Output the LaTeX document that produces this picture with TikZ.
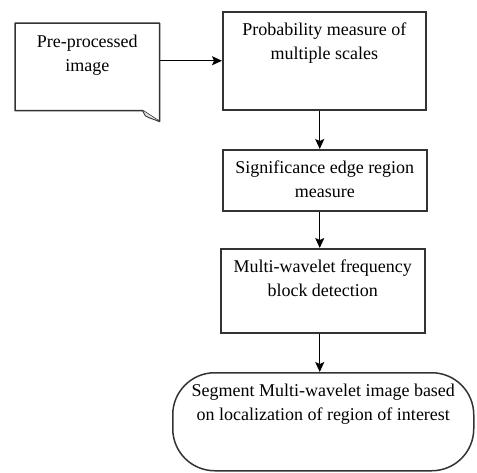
\documentclass[tikz,border=0pt]{standalone}
\usepackage{fontspec}
\setmainfont{Liberation Serif}
\newfontfamily\boxfont{Liberation Serif}
\usetikzlibrary{arrows.meta, calc, positioning}

\newcommand{\boxtext}[3]{\parbox[t][#1][t]{#2}{\centering\strut #3}}

\begin{document}
\begin{tikzpicture}[x=1pt, y=-1pt, line width=1.5pt,
  every node/.style={font=\boxfont\fontsize{18}{24}\selectfont, inner xsep=0pt, inner ysep=7pt},
  stepbox/.style={draw=black!80, fill=white, anchor=north west},
  flow/.style={draw=black, line width=1.3pt, -{Stealth[length=10pt, width=9pt, inset=2pt]}}]
\useasboundingbox (0,0) rectangle (477,472);
% input document
\node[anchor=north west] (pre) at (15,23) {\boxtext{72pt}{143pt}{Pre-processed\\ image}};
\draw[draw=black!80, line join=round] (pre.north west) -- (pre.north east) -- ([yshift=-11pt]pre.south east)
  -- ([xshift=-17pt]pre.south east) -- (pre.south west) -- cycle;
\draw[draw=black!80, fill=black!10, line width=0.9pt, line join=round] ([xshift=-17pt]pre.south east) .. controls ([xshift=-14pt,yshift=-6pt]pre.south east) .. ([xshift=-11pt,yshift=-7pt]pre.south east) -- ([yshift=-11pt]pre.south east);
% process steps
\node[stepbox] (prob) at (222,11) {\boxtext{84pt}{203pt}{Probability measure of\\ multiple scales}};
\node[stepbox] (sig) at (222,149) {\boxtext{47pt}{204pt}{Significance edge region\\ measure}};
\node[stepbox] (multi) at (220,248) {\boxtext{70pt}{204pt}{Multi-wavelet frequency\\ block detection}};
\node[stepbox, rounded corners=42pt] (seg) at (172,372) {\boxtext{84pt}{301pt}{Segment Multi-wavelet image based\\ on localization of region of interest}};
% connectors
\draw[flow] (pre.east |- prob.west) -- (prob.west);
\draw[flow] ([xshift=-4.5pt]prob.south) -- ([xshift=-4.5pt]prob.south |- sig.north);
\draw[flow] ([xshift=-5pt]sig.south) -- ([xshift=-5pt]sig.south |- multi.north);
\draw[flow] ([xshift=-3pt]multi.south) -- ([xshift=-3pt]multi.south |- seg.north);
\end{tikzpicture}
\end{document}
